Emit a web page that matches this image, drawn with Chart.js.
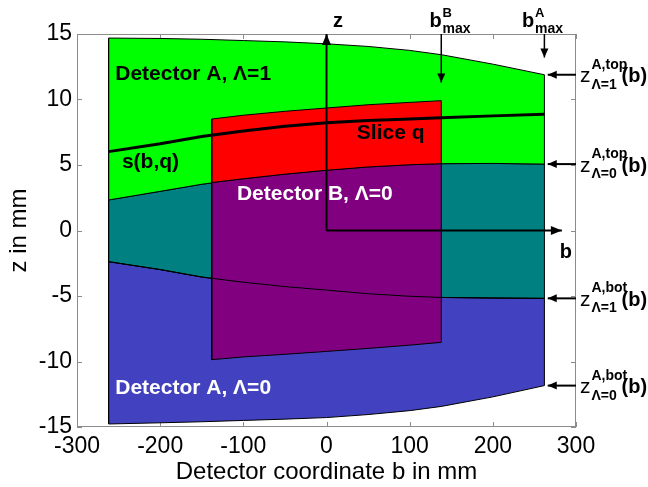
<!DOCTYPE html>
<html>
<head>
<meta charset="utf-8">
<script src="https://cdn.jsdelivr.net/npm/chart.js@4.4.1/dist/chart.umd.min.js"></script>
<style>
  html, body { margin: 0; padding: 0; background: #fff; }
  #c { display: block; }
</style>
</head>
<body>
<canvas id="c" width="648" height="487"></canvas>
<script>
// ---- Detector A: boundaries sampled along detector coordinate b (mm) ----
const bA     = [-262, -200, -150, -100, -50, 0, 50, 100, 138, 200, 262];
const zTopA1 = [14.69, 14.66, 14.6, 14.5, 14.4, 14.25, 14.05, 13.75, 13.42, 12.7, 11.89];
const zTopA0 = [2.33, 2.99, 3.53, 3.95, 4.3, 4.6, 4.85, 5.02, 5.1, 5.12, 5.07];
const zBotA1 = [-2.38, -2.98, -3.55, -3.95, -4.28, -4.55, -4.83, -5.02, -5.11, -5.15, -5.18];
const zBotA0 = [-14.77, -14.68, -14.6, -14.5, -14.4, -14.28, -14.05, -13.75, -13.43, -12.7, -11.84];
// reconstruction slice s(b,q)
const sCurve = [6.02, 6.62, 7.18, 7.6, 7.95, 8.22, 8.4, 8.52, 8.6, 8.75, 8.87];

// ---- Detector B ----
const bB    = [-138, -100, -50, 0, 50, 100, 138];
const zTopB = [8.51, 8.8, 9.1, 9.35, 9.6, 9.78, 9.91];
const zMidB = [3.66, 3.95, 4.3, 4.6, 4.85, 5.02, 5.1];
const zBotB = [-9.86, -9.65, -9.45, -9.23, -9.0, -8.75, -8.54];

// ---- axes ----
const bTicks = [-300, -200, -100, 0, 100, 200, 300];
const zTicks = [-15, -10, -5, 0, 5, 10, 15];
const bArrowEnd = 283;

const FONT = '"Liberation Sans", Arial, Helvetica, sans-serif';
Chart.defaults.font.family = FONT;

const pts = (bs, zs) => bs.map((b, i) => ({x: b, y: zs[i]}));
function band(bs, lower, upper) {
  const p = pts(bs, lower);
  for (let i = bs.length - 1; i >= 0; i--) p.push({x: bs[i], y: upper[i]});
  p.push({x: bs[0], y: lower[0]});
  return p;
}
const region = (label, data, color) => ({
  label, data, showLine: true, fill: 'shape', backgroundColor: color,
  borderColor: '#000', borderWidth: 1, pointRadius: 0, tension: 0
});
const curve = (label, data, width, arrow) => ({
  label, data, showLine: true, fill: false, borderColor: '#000',
  borderWidth: width, pointRadius: 0, tension: 0, arrow
});

const last = a => a[a.length - 1];
const bMaxA = last(bA), bMaxB = last(bB);
const headBig = {len: 11, half: 4.5};
const headSmall = {len: 9, half: 4};

const datasets = [
  region('Detector A, Λ=0', band(bA, zBotA0, zBotA1), '#4242C0'),
  region('Detector A, both turns', band(bA, zBotA1, zTopA0), '#008080'),
  region('Detector A, Λ=1', band(bA, zTopA0, zTopA1), '#00FF00'),
  region('Detector B, Λ=0', band(bB, zBotB, zMidB), '#800080'),
  region('Slice q', band(bB, zMidB, zTopB), '#FF0000'),
  curve('z bot Λ=1', pts(bA, zBotA1), 1),
  curve('s(b,q)', pts(bA, sCurve), 3),
  curve('z axis', [{x: 0, y: 0}, {x: 0, y: 15}], 2, headBig),
  curve('b axis', [{x: 0, y: 0}, {x: bArrowEnd, y: 0}], 2, headBig),
  curve('b max B', [{x: bMaxB, y: 15}, {x: bMaxB, y: 11.3}], 1.5, headSmall),
  curve('b max A', [{x: bMaxA, y: 15}, {x: bMaxA, y: 13.2}], 1.5, headSmall),
  curve('top Λ=1', [{x: 300, y: last(zTopA1)}, {x: bMaxA + 4, y: last(zTopA1)}], 2, headSmall),
  curve('top Λ=0', [{x: 300, y: last(zTopA0)}, {x: bMaxA + 4, y: last(zTopA0)}], 2, headSmall),
  curve('bot Λ=1', [{x: 300, y: last(zBotA1)}, {x: bMaxA + 4, y: last(zBotA1)}], 2, headSmall),
  curve('bot Λ=0', [{x: 300, y: last(zBotA0)}, {x: bMaxA + 4, y: last(zBotA0)}], 2, headSmall)
];
datasets.forEach((d, i) => { d.order = datasets.length - i; });

// Box around the plot with inward tick marks on all four sides
const boxPlugin = {
  id: 'box',
  beforeDatasetsDraw(chart) {
    const {ctx, chartArea: a, scales: {x, y}} = chart;
    ctx.save();
    ctx.strokeStyle = '#8c8c8c';
    ctx.lineWidth = 1;
    ctx.strokeRect(a.left + 0.5, a.top + 0.5, a.right - a.left - 1, a.bottom - a.top - 1);
    ctx.beginPath();
    bTicks.forEach(v => {
      const px = Math.round(x.getPixelForValue(v)) + 0.5;
      ctx.moveTo(px, a.bottom); ctx.lineTo(px, a.bottom - 5);
      ctx.moveTo(px, a.top); ctx.lineTo(px, a.top + 5);
    });
    zTicks.forEach(v => {
      const py = Math.round(y.getPixelForValue(v)) + 0.5;
      ctx.moveTo(a.left, py); ctx.lineTo(a.left + 5, py);
      ctx.moveTo(a.right, py); ctx.lineTo(a.right - 5, py);
    });
    ctx.stroke();
    ctx.restore();
  }
};

// Arrow heads at the end of the arrow datasets
const arrowPlugin = {
  id: 'arrows',
  afterDatasetsDraw(chart) {
    const {ctx} = chart;
    chart.data.datasets.forEach((ds, i) => {
      if (!ds.arrow) return;
      const el = chart.getDatasetMeta(i).data;
      const p0 = el[el.length - 2], p1 = el[el.length - 1];
      const ang = Math.atan2(p1.y - p0.y, p1.x - p0.x);
      const {len, half} = ds.arrow;
      ctx.save();
      ctx.translate(p1.x, p1.y);
      ctx.rotate(ang);
      ctx.fillStyle = '#000';
      ctx.beginPath();
      ctx.moveTo(0, 0);
      ctx.lineTo(-len, -half);
      ctx.lineTo(-len, half);
      ctx.closePath();
      ctx.fill();
      ctx.restore();
    });
  }
};

// Region names and symbol labels
const notes = [
  {text: 'Detector A, Λ=1', b: -254, z: 11.51, color: '#000'},
  {text: 's(b,q)', b: -246, z: 4.79, color: '#000'},
  {text: 'Slice q', b: 36.5, z: 7.01, color: '#000'},
  {text: 'Detector B, Λ=0', b: -107.7, z: 2.35, color: '#fff'},
  {text: 'Detector A, Λ=0', b: -254, z: -12.46, color: '#fff'}
];
const sideLabels = [
  {z: last(zTopA1), sup: 'A,top', sub: 'Λ=1'},
  {z: last(zTopA0), sup: 'A,top', sub: 'Λ=0'},
  {z: last(zBotA1), sup: 'A,bot', sub: 'Λ=1'},
  {z: last(zBotA0), sup: 'A,bot', sub: 'Λ=0'}
];
const labelPlugin = {
  id: 'labels',
  afterDraw(chart) {
    const {ctx, chartArea: a, scales: {x, y}} = chart;
    const put = (s, px, py, font, color) => {
      ctx.font = font; ctx.fillStyle = color;
      ctx.textAlign = 'left'; ctx.textBaseline = 'alphabetic';
      ctx.fillText(s, px, py);
    };
    ctx.save();
    notes.forEach(n => put(n.text, x.getPixelForValue(n.b), y.getPixelForValue(n.z), 'bold 21px ' + FONT, n.color));

    // local axis names
    put('z', x.getPixelForValue(0) + 6.5, a.top - 7.5, 'bold 20px ' + FONT, '#000');
    put('b', x.getPixelForValue(bArrowEnd) - 2, y.getPixelForValue(0) + 27, 'bold 20px ' + FONT, '#000');

    // b_max labels
    [[bMaxB, 'B', -11.7], [bMaxA, 'A', -22.4]].forEach(([bv, sup, dx]) => {
      const px = x.getPixelForValue(bv) + dx;
      put('b', px, a.top - 7, 'bold 20px ' + FONT, '#000');
      put(sup, px + 13, a.top - 17.5, 'bold 13px ' + FONT, '#000');
      put('max', px + 13, a.top - 1.5, 'bold 14px ' + FONT, '#000');
    });

    // boundary labels on the right
    sideLabels.forEach(l => {
      const py = y.getPixelForValue(l.z);
      const px = a.right;
      put('z', px + 4, py + 7.5, '21px ' + FONT, '#000');
      put(l.sup, px + 15.5, py - 6, 'bold 14px ' + FONT, '#000');
      put(l.sub, px + 15.5, py + 14, 'bold 14px ' + FONT, '#000');
      put('(b)', px + 45.5, py + 7.5, 'bold 20px ' + FONT, '#000');
    });
    ctx.restore();
  }
};

new Chart(document.getElementById('c'), {
  type: 'scatter',
  data: {datasets},
  options: {
    responsive: false,
    animation: false,
    devicePixelRatio: 1,
    layout: {padding: {top: 34, right: 72, left: 0, bottom: 0}},
    plugins: {legend: {display: false}, tooltip: {enabled: false}},
    scales: {
      x: {
        type: 'linear', min: -300, max: 300,
        afterBuildTicks: s => { s.ticks = bTicks.map(v => ({value: v})); },
        afterFit: s => { s.height = 60; },
        grid: {display: false, drawTicks: false},
        border: {display: false},
        ticks: {color: '#000', font: {size: 23}, padding: 6, maxRotation: 0, autoSkip: false},
        title: {display: true, text: 'Detector coordinate b in mm', color: '#000', font: {size: 24}, padding: {top: 0, bottom: 0}}
      },
      y: {
        type: 'linear', min: -15, max: 15,
        afterBuildTicks: s => { s.ticks = zTicks.map(v => ({value: v})); },
        afterFit: s => { s.width = 77; },
        grid: {display: false, drawTicks: false},
        border: {display: false},
        ticks: {color: '#000', font: {size: 23}, padding: 5, autoSkip: false},
        title: {display: true, text: 'z in mm', color: '#000', font: {size: 24}, padding: {top: 5, bottom: 0}}
      }
    }
  },
  plugins: [boxPlugin, arrowPlugin, labelPlugin]
});
</script>
</body>
</html>
